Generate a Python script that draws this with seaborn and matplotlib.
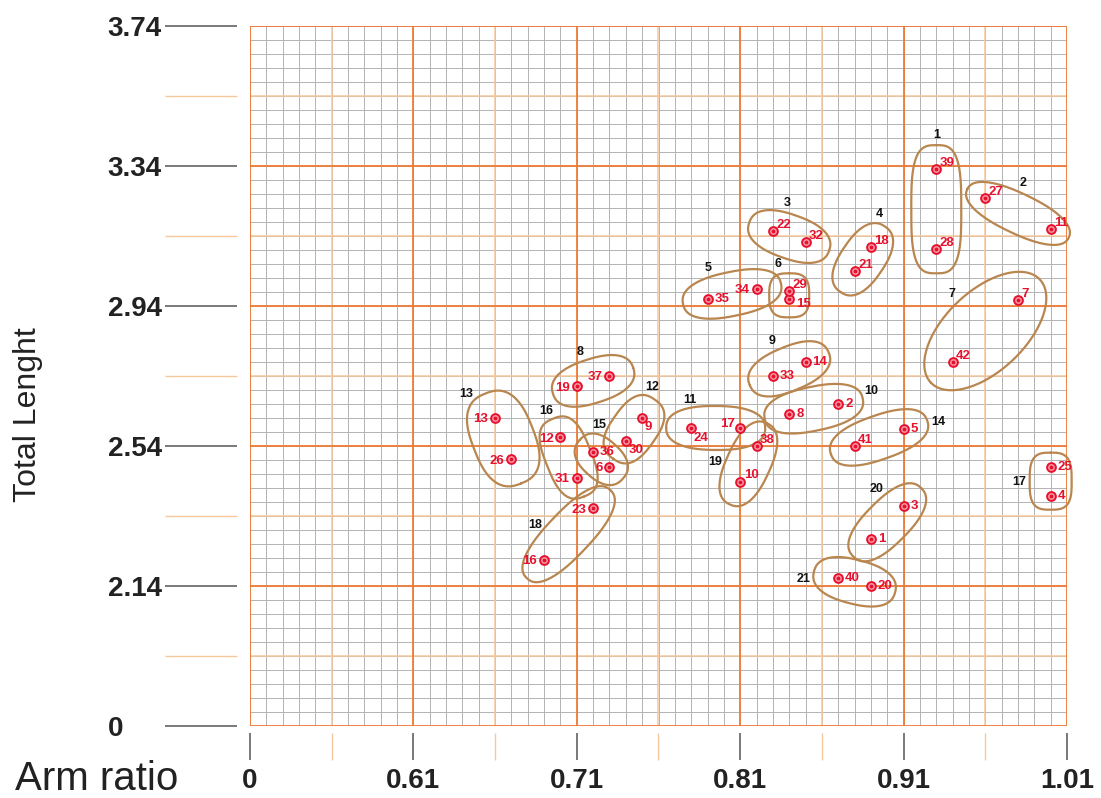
import numpy as np
import pandas as pd
import matplotlib
matplotlib.use('Agg')
import matplotlib.pyplot as plt
import seaborn as sns

# sample number, arm ratio, total length and the group each one falls in
sample_id = list(range(1, 43))
arm_ratio = [0.89, 0.87, 0.91, 1.00, 0.91, 0.73, 0.98, 0.84, 0.75, 0.81,
             1.00, 0.70, 0.66, 0.85, 0.84, 0.69, 0.81, 0.89, 0.71, 0.89,
             0.88, 0.83, 0.72, 0.78, 1.00, 0.67, 0.96, 0.93, 0.84, 0.74,
             0.71, 0.85, 0.83, 0.82, 0.79, 0.72, 0.73, 0.82, 0.93, 0.87,
             0.88, 0.94]
total_length = [2.275, 2.661, 2.369, 2.398, 2.589, 2.481, 2.957, 2.632, 2.621, 2.438,
                3.160, 2.565, 2.621, 2.780, 2.959, 2.214, 2.591, 3.108, 2.711, 2.140,
                3.039, 3.155, 2.362, 2.592, 2.481, 2.502, 3.249, 3.102, 2.982, 2.555,
                2.449, 3.122, 2.741, 2.989, 2.960, 2.523, 2.741, 2.540, 3.331, 2.164,
                2.540, 2.780]
group = [20, 10, 20, 17, 14, 15, 7, 10, 12, 19,
         2, 16, 13, 9, 6, 18, 11, 4, 8, 21,
         4, 3, 18, 11, 17, 13, 2, 1, 6, 12,
         16, 3, 9, 5, 5, 15, 8, 19, 1, 21,
         14, 7]

x_ticks = [0.51, 0.61, 0.71, 0.81, 0.91, 1.01]
x_tick_labels = ['0', '0.61', '0.71', '0.81', '0.91', '1.01']
y_ticks = [1.74, 2.14, 2.54, 2.94, 3.34, 3.74]
y_tick_labels = ['0', '2.14', '2.54', '2.94', '3.34', '3.74']

# where each sample number sits next to its dot
label_side = ['r', 'r', 'r', 'r', 'r', 'l', 'ru', 'r', 'b', 'ru',
              'ru', 'l', 'l', 'r', 'rd', 'l', 'lu', 'ru', 'l', 'r',
              'ru', 'ru', 'l', 'b', 'r', 'l', 'ru', 'ru', 'ru', 'b',
              'l', 'ru', 'r', 'l', 'r', 'r', 'l', 'ru', 'ru', 'r',
              'ru', 'ru']
side_offset = {'r': (5, 0, 'left'), 'ru': (2.5, 4.5, 'left'), 'rd': (5, -3, 'left'),
               'l': (-5, -1, 'right'), 'lu': (-4, 3, 'right'), 'b': (2, -7, 'left')}

# direction (deg) of the group number from the centre of its outline
group_label_angle = {1: 90, 2: 80, 3: 95, 4: 70, 5: 134, 6: 110, 7: 132, 8: 114,
                     9: 123, 10: 17, 11: 133, 12: 66, 13: 130, 14: 14, 15: 93,
                     16: 115, 17: 180, 18: 163, 19: 178, 20: 107, 21: 176}
# outline padding (px along, px across, squareness)
blob_style = {1: (24, 25, 3.2), 7: (30, 40, 2.0), 13: (26, 31, 2.6), 17: (14, 21, 3.2),
              2: (20, 20, 2.3), 16: (20, 23, 2.8), 12: (22, 23, 2.6), 6: (18, 20, 3.0),
              15: (18, 20, 2.4)}

df = pd.DataFrame({'id': sample_id, 'arm_ratio': arm_ratio,
                   'total_length': total_length, 'group': group})

sns.set_theme(style='white')
plt.rcParams['font.family'] = ['Liberation Sans', 'DejaVu Sans']

fig = plt.figure(figsize=(11.01, 7.98), dpi=100)
ax = fig.add_axes([250 / 1101, 72 / 798, 817 / 1101, 700 / 798])
x0, x1 = x_ticks[0], x_ticks[-1]
y0, y1 = y_ticks[0], y_ticks[-1]
ax.set_xlim(x0, x1)
ax.set_ylim(y0, y1)

# graph paper
for v in np.arange(x0, x1 + 1e-6, 0.01):
    ax.axvline(v, color='#b3b3b3', lw=0.7, zorder=1)
for v in np.arange(y0, y1 + 1e-6, 0.04):
    ax.axhline(v, color='#b3b3b3', lw=0.7, zorder=1)
for v in np.arange(x0 + 0.05, x1, 0.1):
    ax.axvline(v, color='#f7c79c', lw=1.1, zorder=2)
for v in np.arange(y0 + 0.2, y1, 0.4):
    ax.axhline(v, color='#f7c79c', lw=1.1, zorder=2)
for v in x_ticks:
    ax.axvline(v, color='#ee7b36', lw=1.3, zorder=3)
for v in y_ticks:
    ax.axhline(v, color='#ee7b36', lw=1.3, zorder=3)

# outlines around each group
sx = ax.bbox.width / (x1 - x0)
sy = ax.bbox.height / (y1 - y0)
t = np.linspace(0, 2 * np.pi, 240)
for g, sub in df.groupby('group'):
    px = (sub['arm_ratio'].to_numpy() - x0) * sx
    py = (sub['total_length'].to_numpy() - y0) * sy
    c = np.array([px.mean(), py.mean()])
    d = np.array([px[-1] - px[0], py[-1] - py[0]])
    L = np.hypot(*d)
    u = d / L if L > 0 else np.array([1.0, 0.0])
    w = np.array([-u[1], u[0]])
    pa, pb, n = blob_style.get(g, (25, 22, 2.4))
    a, b = L / 2 + pa, pb
    e1 = np.sign(np.cos(t)) * np.abs(np.cos(t)) ** (2 / n) * a
    e2 = np.sign(np.sin(t)) * np.abs(np.sin(t)) ** (2 / n) * b
    X = c[0] + e1 * u[0] + e2 * w[0]
    Y = c[1] + e1 * u[1] + e2 * w[1]
    ax.plot(X / sx + x0, Y / sy + y0, color='#b9864f', lw=1.6, zorder=4, clip_on=False)

    th = np.deg2rad(group_label_angle[g])
    ang = np.arctan2(Y - c[1], X - c[0])
    k = np.argmin(np.abs(np.angle(np.exp(1j * (ang - th)))))
    lx = X[k] + 10 * np.cos(th)
    ly = Y[k] + 10 * np.sin(th)
    ax.text(lx / sx + x0, ly / sy + y0, str(g), fontsize=9, fontweight='bold',
            color='#111111', ha='center', va='center', zorder=6)

sns.scatterplot(data=df, x='arm_ratio', y='total_length', ax=ax, s=40,
                color='#f59aa6', edgecolor='#e8112d', linewidth=1.4, zorder=5,
                legend=False, clip_on=False)
ax.scatter(df['arm_ratio'], df['total_length'], s=3, color='#e8112d', zorder=6)

for i in range(len(sample_id)):
    dx, dy, ha = side_offset[label_side[i]]
    ax.annotate(str(sample_id[i]), (arm_ratio[i], total_length[i]),
                xytext=(dx, dy), textcoords='offset points', ha=ha, va='center',
                fontsize=9.5, fontweight='bold', color='#e8112d', zorder=7,
                annotation_clip=False)

# ticks sit away from the grid, like on the original
for side in ['left', 'bottom']:
    ax.spines[side].set_color('none')
ax.spines['left'].set_position(('outward', 9.4))
ax.spines['bottom'].set_position(('outward', 5))
for side in ['top', 'right']:
    ax.spines[side].set_visible(False)

ax.set_xticks(x_ticks)
ax.set_xticklabels(x_tick_labels)
ax.set_yticks(y_ticks)
ax.set_yticklabels(y_tick_labels, ha='left')
ax.set_xticks(np.arange(x0 + 0.05, x1, 0.1), minor=True)
ax.set_yticks(np.arange(y0 + 0.2, y1, 0.4), minor=True)
ax.tick_params(axis='y', which='major', length=52, width=1.1, color='#555555',
               pad=41, labelsize=20, left=True)
ax.tick_params(axis='y', which='minor', length=52, width=1.0, color='#f7c79c', left=True)
ax.tick_params(axis='x', which='major', length=19.4, width=1.1, color='#555555',
               pad=6, labelsize=20, bottom=True)
ax.tick_params(axis='x', which='minor', length=19.4, width=1.0, color='#f7c79c', bottom=True)
for lab in ax.get_xticklabels() + ax.get_yticklabels():
    lab.set_fontweight('bold')
    lab.set_color('#222222')
ax.set_xlabel('')
ax.set_ylabel('')

fig.text(15 / 1101, 8 / 798, 'Arm ratio', fontsize=29, color='#222222',
         ha='left', va='baseline')
fig.text(28 / 1101, 1 - 415 / 798, 'Total Lenght', fontsize=23, color='#222222',
         rotation=90, ha='center', va='center')

fig.savefig('out.png', dpi=100)
